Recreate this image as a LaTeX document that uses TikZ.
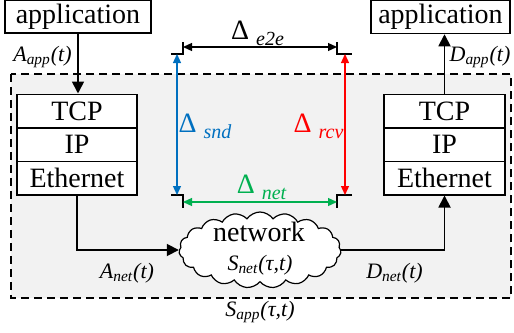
\documentclass[tikz,border=0pt]{standalone}
\usepackage{fontspec}
\setmainfont{Liberation Serif}
\usetikzlibrary{arrows.meta,shapes.symbols}

\definecolor{sndblue}{HTML}{0070C0}
\definecolor{rcvred}{HTML}{FF0000}
\definecolor{netgreen}{HTML}{00B050}
\definecolor{hostgray}{HTML}{F2F2F2}

\newcommand{\dlt}[1]{Δ\hspace{3.5pt}\raisebox{-3pt}{\fontsize{10}{11}\selectfont\itshape #1}}

\tikzset{
  appbox/.style={draw, fill=white, line width=0.75pt, inner sep=0pt, minimum height=16.5pt, font=\fontsize{14}{16}\selectfont},
  layerbox/.style={draw, fill=white, line width=0.75pt, inner sep=0pt, minimum width=60pt, minimum height=16.75pt, font=\fontsize{14}{16}\selectfont},
  flow/.style={line width=0.9pt, -{Triangle[length=6pt,width=6pt]}},
  span/.style={line width=0.65pt, {Triangle[length=4.5pt,width=4pt]}-{Triangle[length=4.5pt,width=4pt]}},
  tickmark/.style={line width=0.8pt},
  siglabel/.style={font=\fontsize{11}{13}\selectfont\itshape, inner sep=0pt},
  dltlabel/.style={font=\fontsize{14}{16}\selectfont, inner sep=0pt}
}

\begin{document}
\begin{tikzpicture}[x=0.5pt, y=-0.5pt]
    \useasboundingbox (0,0) rectangle (514,332);

    % Host / network area
    \draw[fill=hostgray, line width=0.75pt, dash pattern=on 4pt off 2.5pt] (11,74) rectangle (511,298);

    % Applications
    \node[appbox, minimum width=73pt] (app1) at (78,16.5) {application};
    \node[appbox, minimum width=69.5pt] (app2) at (440.5,17) {application};

    % Sender stack
    \node[layerbox] (tcp1) at (77,111) {TCP};
    \node[layerbox] (ip1) at (77,144.5) {IP};
    \node[layerbox] (eth1) at (77,178) {Ethernet};

    % Receiver stack
    \node[layerbox, minimum width=60.5pt] (tcp2) at (444.5,111) {TCP};
    \node[layerbox, minimum width=60.5pt] (ip2) at (444.5,144.5) {IP};
    \node[layerbox, minimum width=60.5pt] (eth2) at (444.5,178) {Ethernet};

    % Network cloud
    \node[cloud, draw, fill=white, line width=0.6pt, cloud puffs=19, cloud puff arc=110, aspect=2.1,
          minimum width=81pt, minimum height=38pt, inner sep=0pt] (net) at (260,250) {};
    \node[font=\fontsize{14}{16}\selectfont, inner sep=0pt] (netname) at (259,232) {network};
    \node[siglabel] (snet) at (260,265) {S\textsubscript{net}(τ,t)};

    % Data flow
    \draw[flow] (app1.south) -- (app1.south |- tcp1.north);
    \draw[flow] (eth1.south) |- (net.west);
    \draw[flow] (net.east) -| (eth2.south);
    \draw[flow] (tcp2.north) -- (tcp2.north |- app2.south);

    % Flow labels
    \node[siglabel] (aapp) at (42.5,57) {A\textsubscript{app}(t)};
    \node[siglabel] (dapp) at (480,57) {D\textsubscript{app}(t)};
    \node[siglabel] (anet) at (127,273) {A\textsubscript{net}(t)};
    \node[siglabel] (dnet) at (394.5,273) {D\textsubscript{net}(t)};
    \node[siglabel] (sapp) at (260,312) {S\textsubscript{app}(τ,t)};

    % Delay markers
    \draw[tickmark] (183,42) -- (183,54) -- (171,54);
    \draw[tickmark] (337,42) -- (337,54) -- (352,54);
    \draw[tickmark] (171,195) -- (183,195) -- (183,208);
    \draw[tickmark] (352,195) -- (337,195) -- (337,208);

    \coordinate (e2e-l) at (183,47);
    \coordinate (e2e-r) at (337,47);
    \coordinate (snd-t) at (177,54);
    \coordinate (snd-b) at (177,195);
    \coordinate (rcv-t) at (345,54);
    \coordinate (rcv-b) at (345,195);
    \coordinate (net-l) at (183,202);
    \coordinate (net-r) at (337,202);

    % Delay spans
    \draw[span] (e2e-l) -- (e2e-r);
    \draw[span, sndblue] (snd-t) -- (snd-b);
    \draw[span, rcvred] (rcv-t) -- (rcv-b);
    \draw[span, netgreen] (net-l) -- (net-r);

    % Delay labels
    \node[dltlabel] (de2e) at (257.5,33) {\dlt{e2e}};
    \node[dltlabel, sndblue] (dsnd) at (205,126) {\dlt{snd}};
    \node[dltlabel, rcvred] (drcv) at (318.5,126) {\dlt{rcv}};
    \node[dltlabel, netgreen] (dnet2) at (261.5,187) {\dlt{net}};

\end{tikzpicture}
\end{document}
